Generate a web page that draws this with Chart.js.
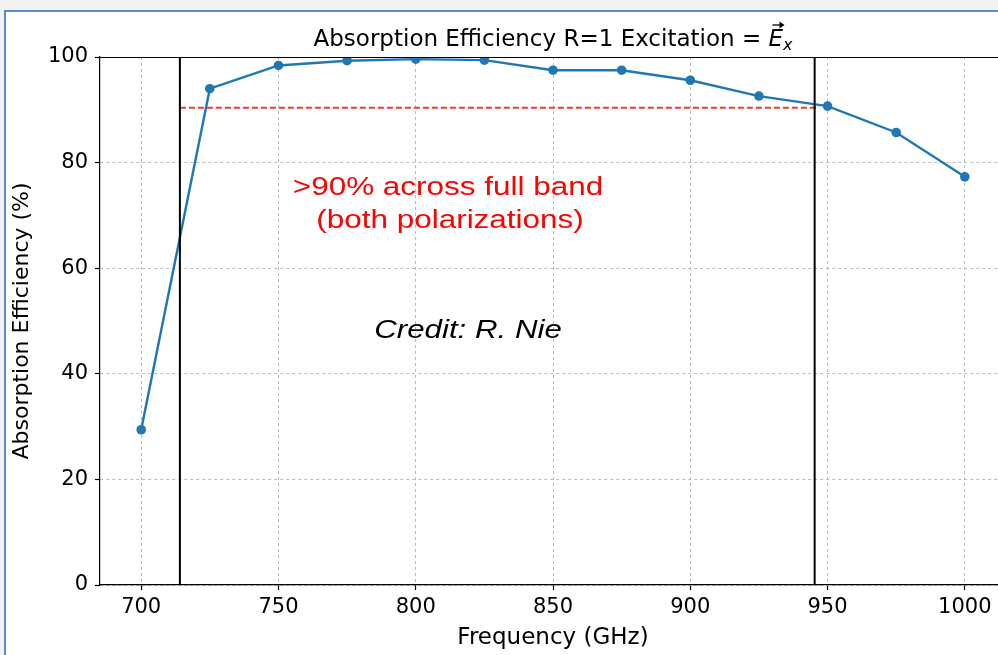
<!DOCTYPE html>
<html>
<head>
<meta charset="utf-8">
<title>Absorption Efficiency</title>
<script src="https://cdn.jsdelivr.net/npm/chart.js"></script>
<style>
  body { margin: 0; background: #f2f2f2; overflow: hidden; }
  #frame { position: absolute; left: 4px; top: 10px; width: 1100px; height: 700px; background: #fff;
           border-left: 2px solid #5b8bc9; border-top: 2px solid #5b8bc9; }
  #wrap { position: absolute; left: 0; top: 0; width: 998px; height: 655px; overflow: hidden; }
  canvas { position: absolute; left: 0; top: 0; }
</style>
</head>
<body>
<div id="frame"></div>
<div id="wrap"><canvas id="myChart" width="1020" height="655"></canvas></div>

<script>
  // values
  var freqs = [700, 725, 750, 775, 800, 825, 850, 875, 900, 925, 950, 975, 1000];
  var efficiency = [29.4, 94.0, 98.4, 99.3, 99.6, 99.4, 97.5, 97.5, 95.6, 92.6, 90.7, 85.7, 77.3];
  var xTicks = [700, 750, 800, 850, 900, 950, 1000];
  var yTicks = [0, 20, 40, 60, 80, 100];
  var bandEdges = [714.1, 945.3];
  var threshold = 90.4;
  var thresholdSpan = [714.1, 946.7];

  var pts = freqs.map(function (f, i) { return {x: f, y: efficiency[i]}; });

  var datasets = [];
  bandEdges.forEach(function (e) {
    datasets.push({
      data: [{x: e, y: 0}, {x: e, y: 100}],
      borderColor: '#000', borderWidth: 2, pointRadius: 0
    });
  });
  datasets.push({
    data: [{x: thresholdSpan[0], y: threshold}, {x: thresholdSpan[1], y: threshold}],
    borderColor: '#f23c1c', borderWidth: 2, borderDash: [6, 3], pointRadius: 0
  });
  datasets.push({
    data: pts,
    borderColor: '#1f77b4', backgroundColor: '#1f77b4',
    borderWidth: 2.4, pointRadius: 4.8, pointHoverRadius: 4.8, pointBorderWidth: 0
  });

  // text stretched sideways to match the picture
  function wideText(ctx, txt, x, y, sx) {
    ctx.save();
    ctx.translate(x, y);
    ctx.scale(sx, 1);
    ctx.fillText(txt, 0, 0);
    ctx.restore();
  }

  var extras = {
    id: 'extras',
    afterDraw: function (chart) {
      var ctx = chart.ctx, a = chart.chartArea;
      ctx.save();
      // top spine
      ctx.strokeStyle = '#000'; ctx.lineWidth = 1.2;
      ctx.beginPath(); ctx.moveTo(a.left, a.top + 0.5); ctx.lineTo(a.right, a.top + 0.5); ctx.stroke();

      // title with vector E, centred over the axes
      var t1 = 'Absorption Efficiency R=1 Excitation = ';
      ctx.fillStyle = '#000';
      ctx.textBaseline = 'alphabetic';
      ctx.textAlign = 'left';
      ctx.font = '23px "DejaVu Sans"';
      var w1 = ctx.measureText(t1).width;
      ctx.font = 'italic 23px "DejaVu Sans"';
      var wE = ctx.measureText('E').width;
      ctx.font = 'italic 16px "DejaVu Sans"';
      var wx = ctx.measureText('x').width;
      var x0 = (a.left + a.right) / 2 - (w1 + wE + wx) / 2, by = 46;
      ctx.font = '23px "DejaVu Sans"';
      ctx.fillText(t1, x0, by);
      ctx.font = 'italic 23px "DejaVu Sans"';
      ctx.fillText('E', x0 + w1, by);
      ctx.font = 'italic 16px "DejaVu Sans"';
      ctx.fillText('x', x0 + w1 + wE, by + 4);
      // arrow over E
      var ax = x0 + w1 + 4, ay = by - 21;
      ctx.lineWidth = 1.3;
      ctx.beginPath(); ctx.moveTo(ax, ay); ctx.lineTo(ax + 10, ay); ctx.stroke();
      ctx.beginPath(); ctx.moveTo(ax + 12, ay); ctx.lineTo(ax + 7, ay - 3.5); ctx.lineTo(ax + 7, ay + 3.5); ctx.closePath(); ctx.fill();

      // annotations (wide in the picture)
      ctx.textAlign = 'center';
      ctx.fillStyle = '#ff0000';
      ctx.font = '26px "Liberation Sans"';
      wideText(ctx, '>90% across full band', 448, 195, 1.21);
      wideText(ctx, '(both polarizations)', 450, 228, 1.21);
      ctx.fillStyle = '#000';
      ctx.font = 'italic 25px "Liberation Sans"';
      wideText(ctx, 'Credit: R. Nie', 468, 337.5, 1.25);
      ctx.restore();
    }
  };

  var ctx = document.getElementById('myChart').getContext('2d');
  var myChart = new Chart(ctx, {
    type: 'line',
    data: {datasets: datasets},
    options: {
      responsive: false,
      animation: false,
      layout: {padding: {left: 0, top: 57, right: 14, bottom: 0}},
      plugins: {legend: {display: false}, tooltip: {enabled: false}, title: {display: false}},
      scales: {
        x: {
          type: 'linear', min: 685, max: 1015,
          afterBuildTicks: function (s) { s.ticks = xTicks.map(function (v) { return {value: v}; }); },
          afterFit: function (s) { s.height = 70; },
          ticks: {color: '#000', font: {family: 'DejaVu Sans', size: 21}, padding: 5, maxRotation: 0,
                  callback: function (v) { return String(v); }},
          grid: {color: '#b4b4b4', lineWidth: 0.9, tickLength: 5, tickColor: '#000', tickWidth: 1.2},
          border: {color: '#000', width: 1.2, dash: [3, 3]},
          title: {display: true, text: 'Frequency (GHz)', color: '#000',
                  font: {family: 'DejaVu Sans', size: 23}, padding: {bottom: 3}}
        },
        y: {
          type: 'linear', min: 0, max: 100,
          afterBuildTicks: function (s) { s.ticks = yTicks.map(function (v) { return {value: v}; }); },
          afterFit: function (s) { s.width = 100; },
          ticks: {color: '#000', font: {family: 'DejaVu Sans', size: 21}, padding: 7},
          grid: {color: '#b4b4b4', lineWidth: 0.9, tickLength: 5, tickColor: '#000', tickWidth: 1.2},
          border: {color: '#000', width: 1.2, dash: [3, 3]},
          title: {display: true, text: 'Absorption Efficiency (%)', color: '#000',
                  font: {family: 'DejaVu Sans', size: 22}, padding: {top: 9}}
        }
      }
    },
    plugins: [extras]
  });
</script>
</body>
</html>
